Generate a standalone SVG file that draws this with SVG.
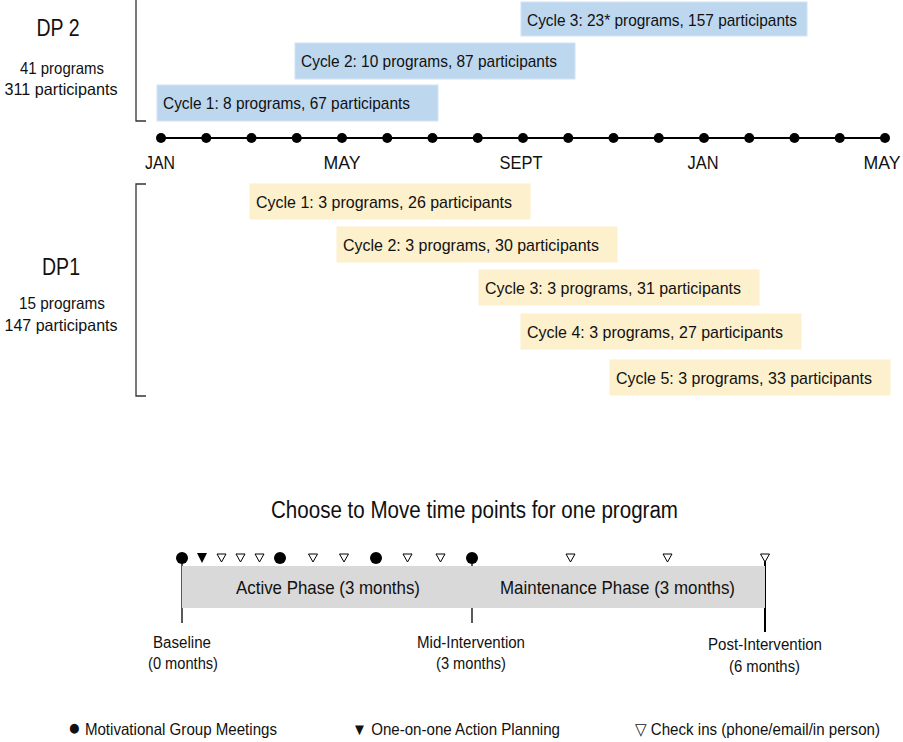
<svg xmlns="http://www.w3.org/2000/svg" width="903" height="742" viewBox="0 0 903 742">
<style>
text{font-family:"Liberation Sans","DejaVu Sans",Arial,sans-serif;fill:#111}
.cyc{font-size:17px}
.blue{fill:#bdd7ee;stroke:#d2e3f3;stroke-width:1}
.yel{fill:#fdf0cc;stroke:#fdf0cc;stroke-width:1}
.mon{font-size:19px;text-anchor:middle}
.big{font-size:24px;text-anchor:middle}
.sub{font-size:16.5px;text-anchor:middle}
.lbl{font-size:16px;text-anchor:middle}
.phase{font-size:19px;text-anchor:middle}
.leg{font-size:16.5px}
.sym{font-size:23px}
.br{fill:none;stroke:#333;stroke-width:1.3}
.dot{fill:#000}
.open{fill:#fff;stroke:#000;stroke-width:1}
</style>
<rect width="903" height="742" fill="#fff"/>

<g id="dp2-label">
<text class="big" x="58" y="36" textLength="43" lengthAdjust="spacingAndGlyphs">DP 2</text>
<text class="sub" x="62" y="74" textLength="84" lengthAdjust="spacingAndGlyphs">41 programs</text>
<text class="sub" x="61" y="95" textLength="113" lengthAdjust="spacingAndGlyphs">311 participants</text>
</g>
<g id="dp1-label">
<text class="big" x="61" y="275" textLength="38" lengthAdjust="spacingAndGlyphs">DP1</text>
<text class="sub" x="62" y="309" textLength="86" lengthAdjust="spacingAndGlyphs">15 programs</text>
<text class="sub" x="61" y="331" textLength="113" lengthAdjust="spacingAndGlyphs">147 participants</text>
</g>

<g id="connectors">
<path class="br" d="M136,0 V121 H146"/>
<path class="br" d="M146,184 H136 V396 H146"/>
<line x1="161" y1="138" x2="885" y2="138" stroke="#000" stroke-width="2"/>
<line x1="182" y1="558" x2="182" y2="623" stroke="#000" stroke-width="1.3"/>
<line x1="472" y1="558" x2="472" y2="623" stroke="#000" stroke-width="1.3"/>
<line x1="765" y1="556" x2="765" y2="632" stroke="#000" stroke-width="2"/>
</g>

<g id="dp2-cycle3"><rect class="blue" x="521" y="2" width="286" height="34"/><text class="cyc" x="527" y="26" textLength="270" lengthAdjust="spacingAndGlyphs">Cycle 3: 23* programs, 157 participants</text></g>
<g id="dp2-cycle2"><rect class="blue" x="295" y="43" width="280" height="36"/><text class="cyc" x="301" y="67" textLength="256" lengthAdjust="spacingAndGlyphs">Cycle 2: 10 programs, 87 participants</text></g>
<g id="dp2-cycle1"><rect class="blue" x="157" y="85" width="281" height="36"/><text class="cyc" x="163" y="109" textLength="247" lengthAdjust="spacingAndGlyphs">Cycle 1: 8 programs, 67 participants</text></g>

<g id="timeline">
<circle class="dot" cx="161" cy="138" r="5"/><circle class="dot" cx="206.25" cy="138" r="5"/><circle class="dot" cx="251.5" cy="138" r="5"/><circle class="dot" cx="296.75" cy="138" r="5"/><circle class="dot" cx="342" cy="138" r="5"/><circle class="dot" cx="387.25" cy="138" r="5"/><circle class="dot" cx="432.5" cy="138" r="5"/><circle class="dot" cx="477.75" cy="138" r="5"/><circle class="dot" cx="523" cy="138" r="5"/><circle class="dot" cx="568.25" cy="138" r="5"/><circle class="dot" cx="613.5" cy="138" r="5"/><circle class="dot" cx="658.75" cy="138" r="5"/><circle class="dot" cx="704" cy="138" r="5"/><circle class="dot" cx="749.25" cy="138" r="5"/><circle class="dot" cx="794.5" cy="138" r="5"/><circle class="dot" cx="839.75" cy="138" r="5"/><circle class="dot" cx="885" cy="138" r="5"/>
<text class="mon" x="160" y="169" textLength="30" lengthAdjust="spacingAndGlyphs">JAN</text>
<text class="mon" x="342" y="169" textLength="37" lengthAdjust="spacingAndGlyphs">MAY</text>
<text class="mon" x="521" y="169" textLength="43" lengthAdjust="spacingAndGlyphs">SEPT</text>
<text class="mon" x="703" y="169" textLength="31" lengthAdjust="spacingAndGlyphs">JAN</text>
<text class="mon" x="882" y="169" textLength="37" lengthAdjust="spacingAndGlyphs">MAY</text>
</g>

<g id="dp1-cycle1"><rect class="yel" x="250" y="184" width="280" height="35"/><text class="cyc" x="256" y="208" textLength="256" lengthAdjust="spacingAndGlyphs">Cycle 1: 3 programs, 26 participants</text></g>
<g id="dp1-cycle2"><rect class="yel" x="337" y="227" width="280" height="35"/><text class="cyc" x="343" y="251" textLength="256" lengthAdjust="spacingAndGlyphs">Cycle 2: 3 programs, 30 participants</text></g>
<g id="dp1-cycle3"><rect class="yel" x="479" y="270" width="280" height="35"/><text class="cyc" x="485" y="294" textLength="256" lengthAdjust="spacingAndGlyphs">Cycle 3: 3 programs, 31 participants</text></g>
<g id="dp1-cycle4"><rect class="yel" x="521" y="314" width="280" height="35"/><text class="cyc" x="527" y="338" textLength="256" lengthAdjust="spacingAndGlyphs">Cycle 4: 3 programs, 27 participants</text></g>
<g id="dp1-cycle5"><rect class="yel" x="610" y="360" width="280" height="35"/><text class="cyc" x="616" y="384" textLength="256" lengthAdjust="spacingAndGlyphs">Cycle 5: 3 programs, 33 participants</text></g>

<g id="program-title">
<text x="474.5" y="518" style="font-size:23px;text-anchor:middle" textLength="407" lengthAdjust="spacingAndGlyphs">Choose to Move time points for one program</text>
</g>

<g id="active-phase"><rect x="182" y="566" width="290" height="42" fill="#d9d9d9"/><text class="phase" x="328" y="594" textLength="184" lengthAdjust="spacingAndGlyphs">Active Phase (3 months)</text></g>
<g id="maintenance-phase"><rect x="472" y="566" width="293" height="42" fill="#d9d9d9"/><text class="phase" x="617.5" y="594" textLength="235" lengthAdjust="spacingAndGlyphs">Maintenance Phase (3 months)</text></g>

<g id="markers">
<circle class="dot" cx="182" cy="558" r="6"/>
<path class="dot" d="M197,553 H207 L202,563 Z"/>
<path class="open" d="M217,554 H226 L221.5,562 Z"/>
<path class="open" d="M236,554 H245 L240.5,562 Z"/>
<path class="open" d="M255,554 H264 L259.5,562 Z"/>
<circle class="dot" cx="280" cy="558" r="6"/>
<path class="open" d="M308.5,554 H317.5 L313,562 Z"/>
<path class="open" d="M339.5,554 H348.5 L344,562 Z"/>
<circle class="dot" cx="376" cy="558" r="6"/>
<path class="open" d="M403,554 H412 L407.5,562 Z"/>
<path class="open" d="M436,554 H445 L440.5,562 Z"/>
<circle class="dot" cx="472" cy="558" r="6"/>
<path class="open" d="M566,554 H575 L570.5,562 Z"/>
<path class="open" d="M663,554 H672 L667.5,562 Z"/>
<path class="open" d="M760.5,554 H769.5 L765,562 Z"/>
</g>

<g id="baseline"><text class="lbl" x="182" y="648" textLength="58" lengthAdjust="spacingAndGlyphs">Baseline</text><text class="lbl" x="183" y="669" textLength="70" lengthAdjust="spacingAndGlyphs">(0 months)</text></g>
<g id="mid-intervention"><text class="lbl" x="471" y="648" textLength="108" lengthAdjust="spacingAndGlyphs">Mid-Intervention</text><text class="lbl" x="471" y="669" textLength="70" lengthAdjust="spacingAndGlyphs">(3 months)</text></g>
<g id="post-intervention"><text class="lbl" x="765" y="650" textLength="114" lengthAdjust="spacingAndGlyphs">Post-Intervention</text><text class="lbl" x="764.5" y="672" textLength="71" lengthAdjust="spacingAndGlyphs">(6 months)</text></g>

<g id="legend">
<text class="leg" x="68" y="735" textLength="209" lengthAdjust="spacingAndGlyphs"><tspan class="sym">●</tspan> Motivational Group Meetings</text>
<text class="leg" x="352" y="735" textLength="208" lengthAdjust="spacingAndGlyphs">▼ One-on-one Action Planning</text>
<text class="leg" x="635" y="735" textLength="245" lengthAdjust="spacingAndGlyphs">▽ Check ins (phone/email/in person)</text>
</g>
</svg>
